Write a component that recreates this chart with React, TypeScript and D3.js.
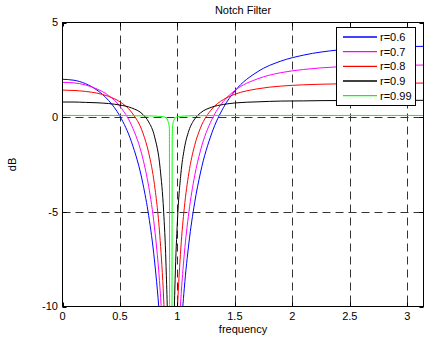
import React from 'react';
import * as d3 from 'd3';

// frequency samples (rad/sample)
const freq = [0, 0.1, 0.2, 0.3, 0.4, 0.5, 0.6, 0.7, 0.75, 0.8, 0.85, 0.88, 0.9, 0.92, 0.93, 0.935, 0.94, 0.945, 0.95, 0.955, 0.96, 0.97, 0.98, 1.0, 1.03, 1.06, 1.1, 1.15, 1.2, 1.3, 1.4, 1.5, 1.7, 1.9, 2.1, 2.4, 2.7, 3.0, 3.1416];

// magnitude response in dB
const r06 = [2.0, 1.95, 1.77, 1.43, 0.89, 0.05, -1.3, -3.52, -5.2, -7.54, -11.09, -14.41, -17.72, -23.22, -28.33, -32.76, -42.36, -42.21, -32.72, -28.29, -25.37, -21.46, -18.77, -15.09, -11.5, -9.03, -6.65, -4.52, -2.95, -0.83, 0.5, 1.38, 2.41, 2.96, 3.28, 3.55, 3.68, 3.73, 3.74];
const r07 = [1.84, 1.81, 1.7, 1.49, 1.15, 0.57, -0.42, -2.2, -3.66, -5.79, -9.18, -12.43, -15.71, -21.19, -26.28, -30.71, -40.31, -40.16, -30.68, -26.25, -23.34, -19.43, -16.76, -13.11, -9.6, -7.23, -5.01, -3.1, -1.78, -0.12, 0.83, 1.41, 2.03, 2.35, 2.52, 2.66, 2.72, 2.75, 2.75];
const r08 = [1.43, 1.41, 1.36, 1.27, 1.1, 0.81, 0.27, -0.84, -1.88, -3.55, -6.51, -9.55, -12.73, -18.14, -23.23, -27.65, -37.25, -37.1, -27.61, -23.19, -20.29, -16.41, -13.77, -10.21, -6.91, -4.79, -2.94, -1.49, -0.58, 0.43, 0.93, 1.21, 1.5, 1.64, 1.71, 1.76, 1.79, 1.8, 1.8];
const r09 = [0.8, 0.8, 0.78, 0.76, 0.72, 0.64, 0.49, 0.14, -0.25, -1.0, -2.72, -4.96, -7.65, -12.72, -17.7, -22.1, -31.68, -31.54, -22.06, -17.67, -14.81, -11.05, -8.59, -5.5, -3.0, -1.67, -0.71, -0.1, 0.22, 0.53, 0.67, 0.75, 0.81, 0.85, 0.86, 0.88, 0.88, 0.89, 0.89];
const r099 = [0.09, 0.09, 0.09, 0.09, 0.09, 0.09, 0.08, 0.07, 0.07, 0.06, 0.04, 0.02, -0.03, -0.25, -0.6, -30, -40, -40, -30, -1.0, -0.4, -0.15, -0.05, 0.02, 0.05, 0.06, 0.07, 0.08, 0.08, 0.09, 0.09, 0.09, 0.09, 0.09, 0.09, 0.09, 0.09, 0.09, 0.09];

const seriesNames = ['r=0.6', 'r=0.7', 'r=0.8', 'r=0.9', 'r=0.99'];
const seriesColors = ['#0000ff', '#ff00ff', '#ff0000', '#000000', '#00ff00'];
const seriesValues = [r06, r07, r08, r09, r099];

const xTicks = [0, 0.5, 1, 1.5, 2, 2.5, 3];
const xTickLabels = ['0', '0.5', '1', '1.5', '2', '2.5', '3'];
const yTicks = [-10, -5, 0, 5];
const yTickLabels = ['-10', '-5', '0', '5'];

const FONT = '"Liberation Sans", Arial, Helvetica, sans-serif';

export default function App() {
  const W = 424;
  const H = 342;
  const x = d3.scaleLinear().domain([0, 3.1416]).range([62.5, 423.5]);
  const y = d3.scaleLinear().domain([-10, 5]).range([306.5, 22.5]);
  const [x0, x1] = x.range();
  const [y0, y1] = y.range();

  const line = d3
    .line<number>()
    .x((_, i) => x(freq[i]))
    .y((d) => y(d))
    .curve(d3.curveMonotoneX);

  const legX = 336.5;
  const legY = 27.5;
  const legW = 79;
  const legH = 78;
  const rowH = 14.67;

  return (
    <svg
      width={W}
      height={H}
      style={{ position: 'absolute', left: 0, top: 0, background: '#fff' }}
      fontFamily={FONT}
    >
      <defs>
        <clipPath id="plotClip">
          <rect x={x0} y={y1} width={x1 - x0} height={y0 - y1} />
        </clipPath>
      </defs>
      <rect x={0} y={0} width={W} height={H} fill="#fff" />
      <rect x={x0} y={y1} width={x1 - x0} height={y0 - y1} fill="#fff" />

      {/* grid */}
      {xTicks
        .filter((t) => t > 0)
        .map((t) => (
          <line
            key={'gx' + t}
            x1={Math.round(x(t)) + 0.5}
            x2={Math.round(x(t)) + 0.5}
            y1={y1}
            y2={y0}
            stroke="#333"
            strokeWidth={1}
            strokeDasharray="8,5"
          />
        ))}
      {yTicks
        .filter((t) => t > -10 && t < 5)
        .map((t) => (
          <line
            key={'gy' + t}
            x1={x0}
            x2={x1}
            y1={Math.round(y(t)) + 0.5}
            y2={Math.round(y(t)) + 0.5}
            stroke="#333"
            strokeWidth={1}
            strokeDasharray="8,5"
          />
        ))}

      {/* curves */}
      <g clipPath="url(#plotClip)">
        {seriesValues.map((vals, i) => (
          <path
            key={seriesNames[i]}
            d={line(vals) || ''}
            fill="none"
            stroke={seriesColors[i]}
            strokeWidth={1}
          />
        ))}
      </g>

      {/* axes box */}
      <rect x={x0} y={y1} width={x1 - x0} height={y0 - y1} fill="none" stroke="#000" strokeWidth={1} />

      {/* ticks */}
      {xTicks.map((t) => (
        <g key={'tx' + t}>
          <line x1={Math.round(x(t)) + 0.5} x2={Math.round(x(t)) + 0.5} y1={y0} y2={y0 - 4} stroke="#000" />
          <line x1={Math.round(x(t)) + 0.5} x2={Math.round(x(t)) + 0.5} y1={y1} y2={y1 + 4} stroke="#000" />
        </g>
      ))}
      {yTicks.map((t) => (
        <g key={'ty' + t}>
          <line x1={x0} x2={x0 + 4} y1={Math.round(y(t)) + 0.5} y2={Math.round(y(t)) + 0.5} stroke="#000" />
          <line x1={x1} x2={x1 - 4} y1={Math.round(y(t)) + 0.5} y2={Math.round(y(t)) + 0.5} stroke="#000" />
        </g>
      ))}

      {/* tick labels */}
      {xTicks.map((t, i) => (
        <text key={'lx' + t} x={x(t)} y={319.5} textAnchor="middle" fontSize={11} fill="#000">
          {xTickLabels[i]}
        </text>
      ))}
      {yTicks.map((t, i) => (
        <text key={'ly' + t} x={58} y={y(t)} dy="0.35em" textAnchor="end" fontSize={11} fill="#000">
          {yTickLabels[i]}
        </text>
      ))}

      {/* title and labels */}
      <text x={(x0 + x1) / 2} y={14} textAnchor="middle" fontSize={11} fill="#000">
        Notch Filter
      </text>
      <text x={(x0 + x1) / 2} y={332.5} textAnchor="middle" fontSize={11} fill="#000">
        frequency
      </text>
      <text
        transform={`translate(15.5, ${(y0 + y1) / 2}) rotate(-90)`}
        textAnchor="middle"
        fontSize={11}
        fill="#000"
      >
        dB
      </text>

      {/* legend */}
      <rect x={legX} y={legY} width={legW} height={legH} fill="#fff" stroke="#000" strokeWidth={1} />
      {seriesNames.map((name, i) => {
        const cy = 37 + i * rowH;
        return (
          <g key={'leg' + name}>
            <line x1={343} x2={377} y1={cy} y2={cy} stroke={seriesColors[i]} strokeWidth={1.3} />
            <text x={380} y={cy} dy="0.35em" fontSize={11} fill="#000">
              {name}
            </text>
          </g>
        );
      })}
    </svg>
  );
}
